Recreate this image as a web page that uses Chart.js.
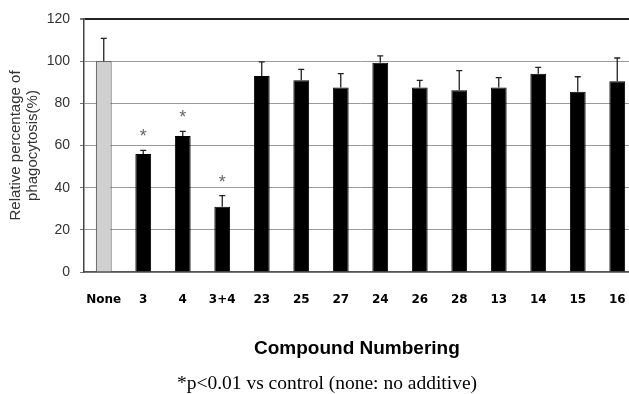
<!DOCTYPE html>
<html>
<head>
<meta charset="utf-8">
<script src="https://cdn.jsdelivr.net/npm/chart.js@4"></script>
<style>
  html, body { margin: 0; padding: 0; overflow: hidden; background: #fff; }
  #wrap { position: relative; width: 629px; height: 394px; overflow: hidden; }
  #xtitle {
    position: absolute; left: 254px; width: 200px; top: 337px; text-align: center;
    font: bold 19px "Liberation Sans", Arial, sans-serif; line-height: 22px; color: #000; white-space: nowrap;
  }
  #note {
    position: absolute; left: 127px; width: 400px; top: 371px; text-align: center;
    font: 19.5px "Liberation Serif", "Times New Roman", serif; line-height: 24px; color: #000; white-space: nowrap;
  }
</style>
</head>
<body>
<div id="wrap">
  <canvas id="chart" width="641" height="394"></canvas>
  <div id="xtitle">Compound Numbering</div>
  <div id="note">*p&lt;0.01 vs control (none: no additive)</div>
</div>
<script>
const categories = ['None', '3', '4', '3+4', '23', '25', '27', '24', '26', '28', '13', '14', '15', '16'];
const values = [100, 56, 64.5, 31, 93, 91, 87.5, 99.3, 87.5, 86.2, 87.5, 94, 85.5, 90.5];
const errors = [10.8, 1.7, 2.2, 5.2, 6.7, 5.1, 6.6, 3.2, 3.4, 9.3, 4.7, 3.1, 7.1, 11];
const stars = ['', '*', '*', '*', '', '', '', '', '', '', '', '', '', ''];
const yTicks = [0, 20, 40, 60, 80, 100, 120];

const barColors = categories.map((c, i) => i === 0 ? '#d0d0d0' : '#000');
const borderColors = categories.map((c, i) => i === 0 ? '#444' : '#000');

// error bars (upper only) and significance stars
const errorBars = {
    id: 'errorBars',
    afterDatasetsDraw(chart) {
        const ctx = chart.ctx;
        const yScale = chart.scales.y;
        const meta = chart.getDatasetMeta(0);
        ctx.save();
        meta.data.forEach((bar, i) => {
            const yTop = yScale.getPixelForValue(values[i]);
            const yErr = yScale.getPixelForValue(values[i] + errors[i]);
            ctx.strokeStyle = '#222';
            ctx.lineWidth = 1.3;
            ctx.beginPath();
            ctx.moveTo(bar.x, yTop);
            ctx.lineTo(bar.x, yErr);
            ctx.moveTo(bar.x - 3, yErr);
            ctx.lineTo(bar.x + 3, yErr);
            ctx.stroke();
            if (stars[i]) {
                ctx.fillStyle = '#666';
                ctx.font = '18px "Liberation Sans", Arial, sans-serif';
                ctx.textAlign = 'center';
                ctx.textBaseline = 'middle';
                ctx.fillText(stars[i], bar.x, yErr - 13);
            }
        });
        ctx.restore();
    }
};

new Chart(document.getElementById('chart'), {
    type: 'bar',
    data: {
        labels: categories,
        datasets: [{
            data: values,
            backgroundColor: barColors,
            borderColor: borderColors,
            borderWidth: 1,
            barPercentage: 0.4,
            categoryPercentage: 1.0,
        }],
    },
    options: {
        responsive: false,
        animation: false,
        layout: { padding: { top: 19, right: 4, bottom: 0, left: 0 } },
        plugins: {
            legend: { display: false },
            tooltip: { enabled: false },
        },
        scales: {
            x: {
                grid: { display: false },
                border: { display: true, color: '#555', width: 1.5 },
                ticks: {
                    color: '#000',
                    padding: 13,
                    maxRotation: 0,
                    autoSkip: false,
                    font: { family: '"DejaVu Sans"', size: 12, weight: 'bold' },
                },
                afterFit(scale) { scale.height = 122; },
            },
            y: {
                min: 0,
                max: 120,
                afterBuildTicks(scale) { scale.ticks = yTicks.map(v => ({ value: v })); },
                grid: {
                    color: ctx => ctx.tick && ctx.tick.value === 120 ? '#222' : '#9a9a9a',
                    lineWidth: ctx => ctx.tick && ctx.tick.value === 120 ? 2 : 1,
                    tickLength: 4,
                    tickColor: '#777',
                },
                border: { display: true, color: '#444', width: 1.5 },
                ticks: {
                    color: '#333',
                    padding: 10,
                    font: { family: '"Liberation Sans", Arial', size: 14 },
                },
                title: {
                    display: true,
                    text: ['Relative percentage of', 'phagocytosis(%)'],
                    color: '#333',
                    padding: { top: 8, bottom: 0 },
                    font: { family: '"Liberation Sans", Arial', size: 15, lineHeight: 1.1 },
                },
                afterFit(scale) { scale.width = 84; },
            },
        },
    },
    plugins: [errorBars],
});
</script>
</body>
</html>
